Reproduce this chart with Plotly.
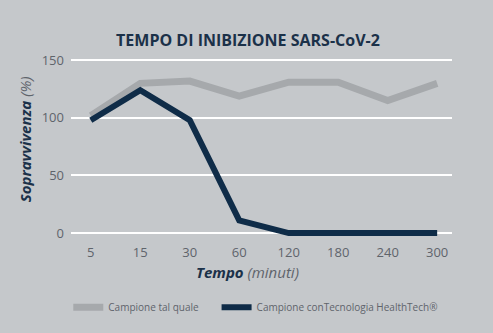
import plotly.graph_objects as go

categories = ["5", "15", "30", "60", "120", "180", "240", "300"]
tal_quale = [102, 130, 132, 119, 131, 131, 115, 130]
healthtech = [98, 124, 98, 11, 0, 0, 0, 0]
y_ticks = [0, 50, 100, 150]

BG = "#c5c8cb"
NAVY = "#0f2c48"
GRAY_LINE = "#a6a9ac"
TXT = "#5f646b"
TITLE = "#1b3149"
FONT = "Open Sans"

fig = go.Figure()
fig.add_trace(go.Scatter(
    x=categories, y=tal_quale, mode="lines", name="Campione tal quale" + "\u00a0" * 5,
    line=dict(color=GRAY_LINE, width=7), cliponaxis=False))
fig.add_trace(go.Scatter(
    x=categories, y=healthtech, mode="lines", name="Campione conTecnologia HealthTech®",
    line=dict(color=NAVY, width=6), cliponaxis=False))

fig.update_layout(
    width=493, height=333,
    paper_bgcolor=BG, plot_bgcolor=BG,
    margin=dict(l=71, r=41, t=58, b=93, autoexpand=False),
    font=dict(family=FONT, color=TXT),
    title=dict(text="<b>TEMPO DI INIBIZIONE SARS-CoV-2</b>", x=0.503, xanchor="center",
               y=0.88, yanchor="middle",
               font=dict(family=FONT, size=16, color=TITLE)),
    showlegend=True,
    legend=dict(orientation="h", x=0.485, xanchor="center", y=-0.37, yanchor="middle",
                font=dict(size=10, color=TXT), bgcolor="rgba(0,0,0,0)",
                itemwidth=30, tracegroupgap=0),
    xaxis=dict(type="category", range=[-0.4, 7.3], showgrid=False, zeroline=False,
               showline=False, ticks="", tickfont=dict(size=13, color=TXT),
               ticklabelstandoff=3),
    yaxis=dict(range=[-6, 152], tickvals=y_ticks, showgrid=True, gridcolor="#ffffff",
               gridwidth=1.5, zeroline=False, showline=False, ticks="",
               tickfont=dict(size=13, color=TXT), ticklabelstandoff=6),
    annotations=[
        dict(text=f"<i><b><span style='color:{TITLE}'>Tempo</span></b> (minuti)</i>",
             xref="paper", yref="paper", x=0.463, y=-0.176, xanchor="center", yanchor="middle",
             showarrow=False, font=dict(size=15, color=TXT)),
        dict(text=f"<i><b><span style='color:{TITLE}'>Sopravvivenza</span></b> (%)</i>",
             xref="paper", yref="paper", x=-0.12, y=0.555, xanchor="center", yanchor="middle",
             textangle=-90, showarrow=False, font=dict(size=15, color=TXT)),
    ],
)

fig.write_html("out.html")
